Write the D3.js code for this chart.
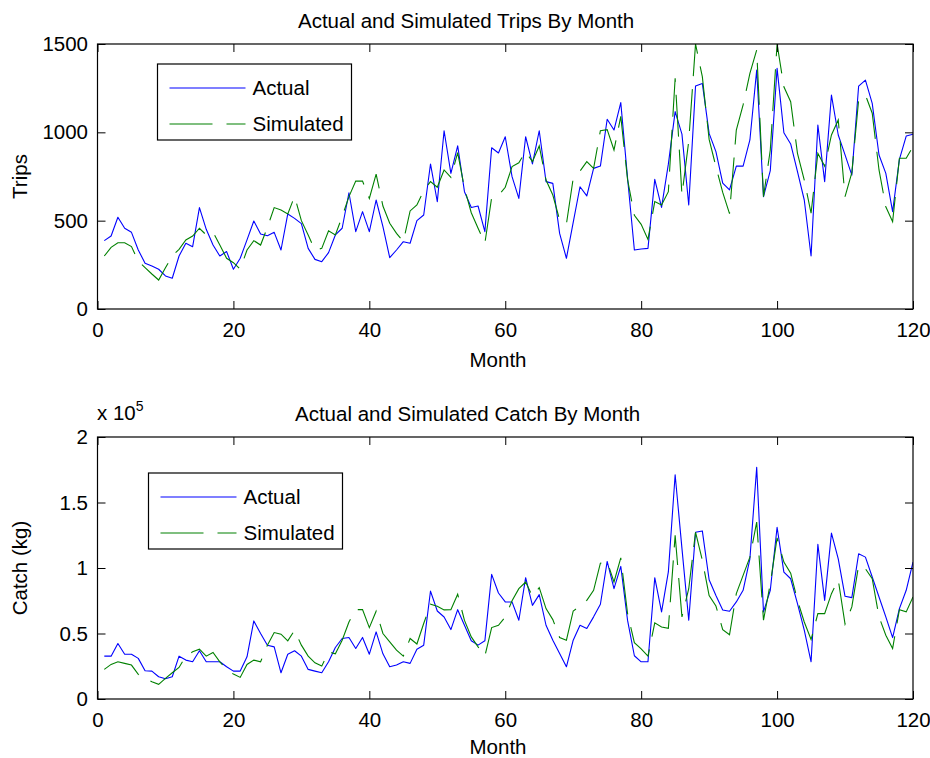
<!DOCTYPE html>
<html>
<head>
<meta charset="utf-8">
<script src="https://cdn.jsdelivr.net/npm/d3@7/dist/d3.min.js"></script>
<style>
  html, body { margin: 0; padding: 0; background: #fff; }
  svg { display: block; }
  text { font-family: "Liberation Sans", Arial, Helvetica, sans-serif; fill: #000; }
</style>
</head>
<body>
<svg id="chart" width="930" height="758"></svg>
<script>
// ---------------- data ----------------
const months = d3.range(1, 121);

const tripsActual = [
  387, 413, 519, 457, 434, 334, 259, 243, 225, 187,
  174, 300, 372, 353, 574, 451, 362, 300, 325, 225,
  287, 391, 498, 425, 415, 434, 334, 538, 513, 483,
  343, 281, 268, 319, 419, 457, 658, 438, 551, 438,
  617, 466, 291, 334, 381, 372, 500, 532, 821, 607,
  1009, 768, 924, 664, 575, 583, 438, 913, 883, 975,
  749, 626, 975, 821, 1009, 721, 711, 428, 287, 490,
  692, 640, 796, 809, 1074, 1013, 1168, 740, 334, 340,
  343, 734, 575, 820, 1117, 990, 589, 1262, 1277, 994,
  891, 713, 674, 809, 809, 957, 1353, 636, 783, 1362,
  998, 934, 777, 617, 300, 1041, 721, 1211, 985, 872,
  758, 1262, 1296, 1164, 872, 768, 551, 847, 979, 989
];

const tripsSimulated = [
  300, 349, 375, 375, 353, 270, 234, 198, 164, 234,
  300, 338, 391, 413, 457, 419, 435, 362, 287, 262,
  225, 334, 387, 362, 462, 574, 560, 538, 638, 500,
  419, 334, 343, 443, 419, 523, 636, 724, 724, 626,
  764, 583, 485, 428, 381, 555, 589, 670, 721, 689,
  787, 745, 885, 683, 545, 457, 372, 630, 642, 689,
  806, 828, 891, 834, 923, 730, 645, 504, 481, 740,
  781, 834, 796, 1009, 1015, 900, 1090, 732, 530, 479,
  394, 608, 589, 664, 1306, 645, 950, 1500, 1315, 960,
  806, 660, 540, 1013, 1155, 1334, 1466, 636, 900, 1500,
  1258, 1173, 881, 730, 542, 881, 809, 985, 1070, 636,
  772, 1183, 1211, 1108, 787, 579, 494, 853, 853, 919
];

// catch in kg
const catchActual = [
  32700, 32700, 42400, 34200, 34200, 31000, 21600, 21300, 17000, 15500,
  17000, 32700, 29700, 28400, 36800, 28400, 28400, 28400, 24600, 21300,
  21300, 32200, 59600, 50000, 41100, 39800, 20000, 34200, 36800, 32700,
  22600, 21300, 20000, 28400, 39300, 46200, 47000, 38600, 47000, 34200,
  51200, 34500, 24600, 25900, 28400, 27200, 38000, 41100, 82400, 67200,
  62600, 53000, 68200, 56300, 44400, 41100, 44400, 95100, 80900, 74100,
  74100, 60100, 92600, 71500, 79700, 56300, 44900, 34800, 24600, 44900,
  56300, 53800, 62700, 72300, 105000, 84200, 101200, 60000, 33000, 28400,
  28400, 92600, 66500, 97000, 171200, 115000, 60100, 127300, 128300, 91000,
  79000, 68000, 67000, 74100, 83000, 107000, 176800, 66500, 83000, 131100,
  96900, 91800, 72800, 52500, 28400, 118000, 75300, 126600, 107000, 78400,
  77400, 110900, 108300, 93100, 77900, 62700, 46900, 69000, 83000, 104500
];

const catchSimulated = [
  22600, 26400, 28400, 27200, 25900, 18800, 16000, 13200, 11200, 15700,
  20000, 24100, 32700, 36000, 38000, 32700, 35500, 28400, 22600, 19000,
  16500, 26400, 29700, 28400, 41000, 50700, 49500, 44400, 52500, 41100,
  32700, 27600, 25100, 36000, 34500, 44900, 58800, 68200, 68200, 54500,
  67000, 50000, 43600, 37300, 32700, 46200, 42000, 57600, 72300, 70800,
  68000, 68200, 80000, 60000, 47400, 39800, 32700, 54500, 56300, 62600,
  75000, 84200, 89300, 78400, 85000, 69000, 60600, 46900, 44900, 67200,
  70800, 75300, 83000, 103700, 105000, 89300, 107800, 65200, 43000, 38300,
  32700, 58100, 55000, 54000, 125000, 62700, 84200, 127300, 106000, 79000,
  71000, 53000, 49000, 80400, 94400, 108300, 135000, 60100, 88000, 123000,
  104500, 96100, 75300, 58800, 45400, 65200, 65200, 80400, 91000, 57100,
  70300, 102000, 99400, 91800, 62700, 48700, 38600, 68200, 66500, 77900
];

const xTicks = [0, 20, 40, 60, 80, 100, 120];
const tripsTicks = [0, 500, 1000, 1500];
const catchTicks = [0, 0.5, 1, 1.5, 2];      // in units of 10^5 kg
const catchScaleFactor = 1e5;

const seriesNames = ["Actual", "Simulated"];
const seriesColors = ["#0000ff", "#008000"];

// ---------------- drawing ----------------
const svg = d3.select("#chart");
const FONT = 20.5;
const DASH = "42,13";

const left = 97.5, right = 913;

function drawPanel(cfg) {
  const g = svg.append("g");
  const x = d3.scaleLinear().domain([0, 120]).range([left, right]);
  const y = d3.scaleLinear().domain(cfg.yDomain).range([cfg.bottom, cfg.top]);

  const clipId = "clip" + cfg.id;
  svg.append("defs").append("clipPath").attr("id", clipId)
    .append("rect").attr("x", left).attr("y", cfg.top)
    .attr("width", right - left).attr("height", cfg.bottom - cfg.top);

  const line = d3.line().x((d, i) => x(months[i])).y(d => y(d / cfg.div));

  const plot = g.append("g").attr("clip-path", `url(#${clipId})`);
  plot.append("path").datum(cfg.actual)
    .attr("d", line).attr("fill", "none")
    .attr("stroke", seriesColors[0]).attr("stroke-width", 1.1)
    .attr("stroke-linejoin", "round");
  plot.append("path").datum(cfg.sim)
    .attr("d", line).attr("fill", "none")
    .attr("stroke", seriesColors[1]).attr("stroke-width", 1.1)
    .attr("stroke-dasharray", DASH);

  // axes (ticks inside)
  const axB = g.append("g").attr("transform", `translate(0,${cfg.bottom})`)
    .call(d3.axisBottom(x).tickValues(xTicks).tickSizeInner(-8).tickSizeOuter(0).tickPadding(13));
  const axT = g.append("g").attr("transform", `translate(0,${cfg.top})`)
    .call(d3.axisTop(x).tickValues(xTicks).tickSizeInner(-8).tickSizeOuter(0).tickFormat(""));
  const axL = g.append("g").attr("transform", `translate(${left},0)`)
    .call(d3.axisLeft(y).tickValues(cfg.yTicks).tickSizeInner(-8).tickSizeOuter(0).tickPadding(9.5).tickFormat(cfg.fmtY));
  const axR = g.append("g").attr("transform", `translate(${right},0)`)
    .call(d3.axisRight(y).tickValues(cfg.yTicks).tickSizeInner(-8).tickSizeOuter(0).tickFormat(""));
  [axB, axT, axL, axR].forEach(a => {
    a.select(".domain").remove();
    a.selectAll("line").attr("stroke", "#000").attr("stroke-width", 1);
    a.selectAll("text").attr("font-size", FONT).attr("font-family", "Liberation Sans, Arial, sans-serif").attr("fill", "#000");
  });

  // frame
  g.append("rect").attr("x", left).attr("y", cfg.top)
    .attr("width", right - left).attr("height", cfg.bottom - cfg.top)
    .attr("fill", "none").attr("stroke", "#000").attr("stroke-width", 1.2);

  // title & labels
  g.append("text").attr("x", cfg.titleX).attr("y", cfg.top - 16)
    .attr("text-anchor", "start").attr("font-size", FONT).text(cfg.title);
  g.append("text").attr("x", 498).attr("y", cfg.bottom + cfg.xlabelDy)
    .attr("text-anchor", "middle").attr("font-size", FONT).text("Month");
  g.append("text")
    .attr("transform", `translate(27,${(cfg.top + cfg.bottom) / 2}) rotate(-90)`)
    .attr("text-anchor", "middle").attr("font-size", FONT).text(cfg.ylabel);

  // legend
  const L = cfg.legend;
  g.append("rect").attr("x", L.x).attr("y", L.y).attr("width", 194).attr("height", 76)
    .attr("fill", "#fff").attr("stroke", "#000").attr("stroke-width", 1.2);
  seriesNames.forEach((name, i) => {
    const yy = L.y + 24 + i * 36;
    g.append("line").attr("x1", L.x + 12).attr("x2", L.x + 88)
      .attr("y1", yy).attr("y2", yy)
      .attr("stroke", seriesColors[i]).attr("stroke-width", 1.1)
      .attr("stroke-dasharray", i === 1 ? "43,14" : null);
    g.append("text").attr("x", L.x + 95).attr("y", yy).attr("dy", "0.35em")
      .attr("font-size", FONT).text(name);
  });
  return g;
}

drawPanel({
  id: 1, top: 44, bottom: 309, yDomain: [0, 1500], yTicks: tripsTicks,
  actual: tripsActual, sim: tripsSimulated, div: 1,
  fmtY: d => String(d), title: "Actual and Simulated Trips By Month", titleX: 298,
  xlabelDy: 58, ylabel: "Trips", legend: { x: 157.5, y: 64 }
});

const g2 = drawPanel({
  id: 2, top: 437, bottom: 699, yDomain: [0, 2], yTicks: catchTicks,
  actual: catchActual, sim: catchSimulated, div: catchScaleFactor,
  fmtY: d => String(d), title: "Actual and Simulated Catch By Month", titleX: 295,
  xlabelDy: 55, ylabel: "Catch (kg)", legend: { x: 148.5, y: 473 }
});

// exponent label
const ex = g2.append("text").attr("x", 97).attr("y", 420).attr("font-size", FONT);
ex.append("tspan").text("x 10");
ex.append("tspan").attr("font-size", 14).attr("dy", -9).text("5");
</script>
</body>
</html>
